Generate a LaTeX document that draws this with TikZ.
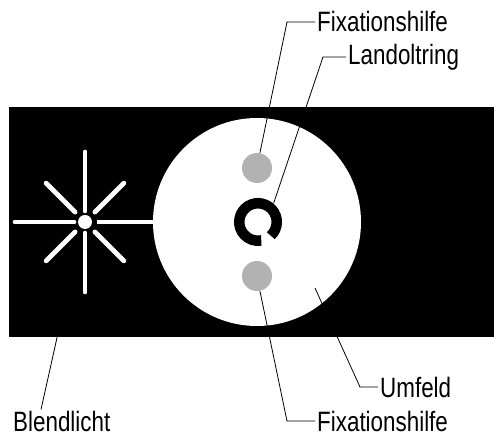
\documentclass[tikz,border=0pt]{standalone}
\usepackage{fontspec}
\setmainfont{Liberation Sans}[FakeStretch=0.8]
\definecolor{fixgray}{gray}{0.7}

\begin{document}
\begin{tikzpicture}[x=1pt, y=1pt, every node/.style={font=\fontsize{28}{30}\selectfont},
  ray/.style={white, line width=4.7pt, line cap=round},
  lead/.style={line width=0.8pt},
  fix/.style={circle, fill=fixgray, minimum size=30pt, inner sep=0pt},
  lbl/.style={anchor=west, inner sep=2pt}]
  \useasboundingbox (0,0) rectangle (494,435);
  \fill[black] (9,98) rectangle (494,328);
  \node[circle, fill=white, minimum size=208pt, inner sep=0pt] (field) at (257,213) {};
  \node[circle, fill=white, minimum size=14pt, inner sep=0pt] (lamp) at (85,213) {};
  \foreach \a in {90,180,270}
    \draw[ray] ([shift={(\a:11)}]lamp.center) -- ([shift={(\a:70)}]lamp.center);
  \foreach \a in {45,135,225,315}
    \draw[ray] ([shift={(\a:14)}]lamp.center) -- ([shift={(\a:55)}]lamp.center);
  \draw[ray, line cap=butt] ([xshift=5pt]lamp.east) -- (field.west);
  \node[fix] (fixtop) at (257,267) {};
  \node[fix] (fixbot) at (257,159) {};
  \node[circle, minimum size=48pt, inner sep=0pt] (ring) at (258,213) {};
  \draw[line width=10.5pt] ([shift={(-47:18.75)}]ring.center) arc[start angle=-47, end angle=280, radius=18.75];
  \coordinate (fieldpt) at (315,147);

  \node[lbl] (fixtoplbl) at (315,413) {Fixationshilfe};
  \node[lbl] (ringlbl) at (346,378) {Landoltring};
  \node[lbl] (fieldlbl) at (378,48) {Umfeld};
  \node[lbl] (fixbotlbl) at (315,14) {Fixationshilfe};
  \node[anchor=base west, inner sep=2pt] (lamplbl) at (11,3) {Blendlicht};

  \draw[lead] (fixtop.79) -- ([xshift=-28pt]fixtoplbl.west) -- (fixtoplbl.west);
  \draw[lead] (ring.50) -- ([xshift=-23pt]ringlbl.west) -- (ringlbl.west);
  \draw[lead] (fieldpt) -- ([xshift=-18pt]fieldlbl.west) -- (fieldlbl.west);
  \draw[lead] (fixbot.281) -- ([xshift=-28pt]fixbotlbl.west) -- (fixbotlbl.west);
  \draw[lead] (lamp.240) -- ([xshift=30pt]lamplbl.north west);
\end{tikzpicture}
\end{document}
